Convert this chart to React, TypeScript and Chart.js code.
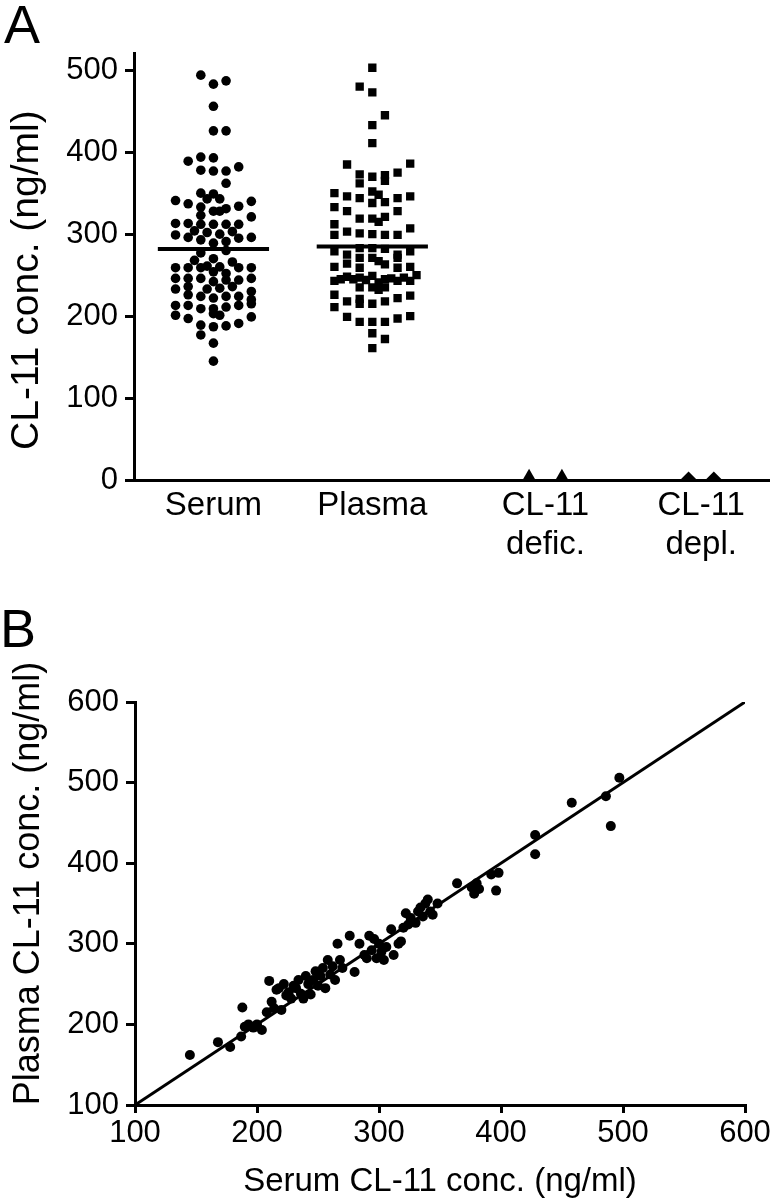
import React, { useEffect, useRef } from "react";
import { Chart, registerables } from "chart.js";

Chart.register(...registerables);

const FONT = "'Liberation Sans', Arial, Helvetica, sans-serif";

// ---------------- Panel A data ----------------
const categories: string[][] = [["Serum"], ["Plasma"], ["CL-11", "defic."], ["CL-11", "depl."]];
const categoryPositions = [1, 2, 3.09, 4.07];
const yTicksA = [0, 100, 200, 300, 400, 500];
const yTitleA = "CL-11 conc. (ng/ml)";

// [column offset in the swarm, CL-11 value ng/ml]
const serumPoints: [number, number][] = [
  [-1, 494], [0, 483], [1, 487], [0, 456], [0, 426], [1, 426],
  [-2, 389], [-1, 394], [0, 393], [-1, 378], [0, 377], [1, 377], [2, 382], [1, 362],
  [-1, 350], [0, 349], [-0.5, 343], [0.5, 343], [-3, 341], [-2, 337], [-1, 333], [0, 328], [0.5, 328], [1, 331], [2, 334], [3, 340],
  [-1, 323], [3, 321],
  [-3, 313], [-2, 313], [-1, 312], [0, 312], [1, 312], [2, 312],
  [-1.5, 304], [-0.5, 302], [0.5, 300], [1.5, 303],
  [-3, 299], [-2, 296], [-1, 293], [0, 289], [1, 291], [2, 295], [3, 296],
  [-1, 277], [1, 280],
  [-1.5, 268], [0, 270], [1.5, 266],
  [-3, 259], [-2, 259], [-1, 259], [-0.5, 261], [0, 254], [0.5, 260], [1, 252], [2, 259], [3, 259],
  [-3, 246], [-2, 246], [-1, 246], [0, 242], [1, 244], [2, 244], [3, 246],
  [-3, 233], [-2, 236], [-0.5, 233], [0.5, 234], [1.5, 236], [3, 230],
  [-2, 226], [-1, 224], [0, 222], [1, 224], [2, 224], [3, 220],
  [-3, 213], [-2, 213], [-1, 209], [0, 209], [1, 211], [2, 213], [3, 215],
  [-3, 201], [-2, 197], [0, 203], [0.5, 201], [3, 199],
  [-1, 189], [0, 187], [1, 188], [2, 191],
  [-1, 177], [0, 167], [0, 145],
];

const plasmaPoints: [number, number][] = [
  [0, 503], [-1, 480], [0, 473], [1, 445], [0, 433], [0, 411],
  [-2, 385], [3, 386], [2, 375], [-1, 373], [0, 370], [1, 372], [-1, 362], [1, 365],
  [-3, 350], [-2, 346], [-1, 344], [0, 352], [0.5, 348], [1, 339], [0, 338], [2, 344], [3, 346],
  [-3, 333], [-2, 328], [2, 328],
  [-1, 319], [0, 319], [0.5, 315], [1, 321],
  [-3, 312], [-3, 299], [-2, 303], [-1, 301], [0, 300], [1, 299], [2, 299], [3, 307],
  [-3, 279], [-2, 275], [-1, 283], [0, 283], [1, 282], [2, 275], [3, 279],
  [-2, 264], [-3, 260], [-1, 271], [-1, 259], [-1, 247], [-1, 235], [-1, 221], [-1, 215],
  [0, 271], [0.5, 267], [1, 263], [2, 271], [2, 259], [3, 260],
  [-3, 243], [-2.5, 245], [-2, 248], [-1.5, 245], [-0.5, 244], [0, 249], [0.5, 241], [1, 245], [1.5, 246], [2, 243], [2.5, 247], [3, 243], [3.5, 250],
  [0, 235], [0.5, 232], [1, 235],
  [-3, 226], [-3, 211], [-2, 218], [0, 215], [1, 218], [2, 222], [3, 225],
  [-2, 199], [-1, 193], [0, 193], [1, 193], [2, 197], [3, 200],
  [0, 179], [1, 172], [0, 161],
];

const deficPoints: [number, number][] = [[-1.3, 4.5], [1.3, 4.5]];
const deplPoints: [number, number][] = [[-1, 0], [1, 0]];
const serumMean = 282;
const plasmaMean = 285;

// ---------------- Panel B data ----------------
const xTicksB = [100, 200, 300, 400, 500, 600];
const yTicksB = [100, 200, 300, 400, 500, 600];
const identityLine = [100, 600];
const xTitleB = "Serum CL-11 conc. (ng/ml)";
const yTitleB = "Plasma CL-11 conc. (ng/ml)";
const serumB = [
  145, 168, 178, 187, 188, 190, 193, 197, 200, 204, 208, 210, 212, 214, 216, 218, 220, 222, 224, 226,
  228, 230, 232, 234, 236, 238, 240, 242, 244, 246, 248, 250, 252, 254, 256, 258, 260, 262, 264, 266,
  268, 270, 276, 280, 284, 288, 290, 292, 294, 296, 298, 300, 302, 304, 306, 310, 312, 316, 318, 320,
  322, 324, 326, 330, 332, 334, 336, 338, 340, 342, 344, 348, 364, 376, 378, 380, 382, 392, 396, 398,
  428, 428, 458, 486, 490, 497,
];
const plasmaB = [
  162, 178, 172, 185, 221, 197, 200, 196, 200, 193, 215, 254, 228, 220, 243, 245, 218, 250, 236, 240,
  232, 248, 245, 255, 238, 232, 260, 250, 237, 255, 266, 248, 260, 270, 245, 280, 262, 272, 255, 300,
  280, 270, 310, 265, 300, 286, 282, 310, 292, 306, 282, 300, 290, 280, 296, 318, 286, 300, 303, 320,
  338, 324, 332, 326, 340, 345, 334, 350, 355, 340, 336, 350, 375, 370, 362, 375, 368, 386, 366, 388,
  435, 411, 475, 483, 446, 506,
];

const COL_STEP = 0.0795;
const MEAN_HALF = 0.35;

function swarm(points: [number, number][], center: number) {
  return points.map(([c, v]) => ({ x: center + c * COL_STEP, y: v }));
}

function fixedTicks(values: number[]) {
  return (scale: any) => {
    scale.ticks = values.map((v) => ({ value: v }));
  };
}

// Rotated y-axis title, centred on the middle of the tick range
function yTitlePlugin(text: string, size: number, centerX: number, midValue: number, dy: number) {
  return {
    id: "yTitle_" + text.length,
    afterDraw(chart: any) {
      const { ctx, scales } = chart;
      const cy = scales.y.getPixelForValue(midValue) + dy;
      ctx.save();
      ctx.translate(centerX, cy);
      ctx.rotate(-Math.PI / 2);
      ctx.fillStyle = "#000";
      ctx.font = `${size}px ${FONT}`;
      ctx.textAlign = "center";
      ctx.textBaseline = "middle";
      ctx.fillText(text, 0, 0);
      ctx.restore();
    },
  };
}

function ChartA() {
  const ref = useRef<HTMLCanvasElement>(null);
  useEffect(() => {
    const ctx = ref.current!;
    const black = "#000";
    const chart = new Chart(ctx, {
      type: "scatter",
      data: {
        datasets: [
          {
            data: swarm(serumPoints, categoryPositions[0]),
            pointStyle: "circle",
            pointRadius: 4.8,
            backgroundColor: black,
            borderWidth: 0,
          },
          {
            data: swarm(plasmaPoints, categoryPositions[1]),
            pointStyle: "rect",
            pointRadius: 5.9,
            backgroundColor: black,
            borderWidth: 0,
          },
          {
            data: swarm(deficPoints, categoryPositions[2]),
            pointStyle: "triangle",
            pointRadius: 7.5,
            backgroundColor: black,
            borderWidth: 0,
          },
          {
            data: swarm(deplPoints, categoryPositions[3]),
            pointStyle: "rectRot",
            pointRadius: 8.5,
            backgroundColor: black,
            borderWidth: 0,
          },
          {
            data: [
              { x: categoryPositions[0] - MEAN_HALF, y: serumMean },
              { x: categoryPositions[0] + MEAN_HALF, y: serumMean },
            ],
            showLine: true,
            pointRadius: 0,
            borderColor: black,
            borderWidth: 4,
          },
          {
            data: [
              { x: categoryPositions[1] - MEAN_HALF, y: plasmaMean },
              { x: categoryPositions[1] + MEAN_HALF, y: plasmaMean },
            ],
            showLine: true,
            pointRadius: 0,
            borderColor: black,
            borderWidth: 4,
          },
        ],
      },
      options: {
        animation: false,
        responsive: false,
        maintainAspectRatio: false,
        events: [],
        layout: { padding: { top: 53, right: 4, left: 0, bottom: 0 } },
        plugins: { legend: { display: false }, tooltip: { enabled: false } },
        scales: {
          x: {
            type: "linear",
            min: 0.5,
            max: 4.5,
            afterBuildTicks: fixedTicks(categoryPositions),
            afterFit: (s: any) => {
              s.height = 120;
            },
            ticks: {
              autoSkip: false,
              maxRotation: 0,
              minRotation: 0,
              padding: 6,
              color: black,
              font: { family: FONT, size: 33 },
              callback: (v: any) => {
                const i = categoryPositions.indexOf(Number(v));
                return i >= 0 ? categories[i] : "";
              },
            },
            grid: { display: false, drawTicks: false },
            border: { display: true, color: black, width: 3 },
          },
          y: {
            type: "linear",
            min: 0,
            max: 521,
            afterBuildTicks: fixedTicks(yTicksA),
            afterFit: (s: any) => {
              s.width = 134;
            },
            ticks: {
              padding: 7,
              color: black,
              font: { family: FONT, size: 31 },
            },
            grid: { drawOnChartArea: false, drawTicks: true, tickLength: 9, color: black, lineWidth: 3 },
            border: { display: true, color: black, width: 3 },
          },
        },
      },
      plugins: [yTitlePlugin(yTitleA, 39, 27, 250, 5)],
    });
    return () => chart.destroy();
  }, []);
  return <canvas ref={ref} width={778} height={600} style={{ position: "absolute", left: 0, top: 0, width: 778, height: 600 }} />;
}

function ChartB() {
  const ref = useRef<HTMLCanvasElement>(null);
  useEffect(() => {
    const ctx = ref.current!;
    const black = "#000";
    const chart = new Chart(ctx, {
      type: "scatter",
      data: {
        datasets: [
          {
            data: serumB.map((s, i) => ({ x: s, y: plasmaB[i] })),
            pointStyle: "circle",
            pointRadius: 5,
            backgroundColor: black,
            borderWidth: 0,
          },
          {
            data: identityLine.map((v) => ({ x: v, y: v })),
            showLine: true,
            pointRadius: 0,
            borderColor: black,
            borderWidth: 3,
          },
        ],
      },
      options: {
        animation: false,
        responsive: false,
        maintainAspectRatio: false,
        events: [],
        layout: { padding: { top: 102, right: 33, left: 0, bottom: 0 } },
        plugins: { legend: { display: false }, tooltip: { enabled: false } },
        scales: {
          x: {
            type: "linear",
            min: 100,
            max: 600,
            afterBuildTicks: fixedTicks(xTicksB),
            afterFit: (s: any) => {
              s.height = 93;
            },
            ticks: { padding: 2, color: black, font: { family: FONT, size: 31 }, maxRotation: 0 },
            grid: { drawOnChartArea: false, drawTicks: true, tickLength: 8, color: black, lineWidth: 3 },
            border: { display: true, color: black, width: 3 },
            title: {
              display: true,
              text: xTitleB,
              color: black,
              font: { family: FONT, size: 33 },
              padding: { top: 0, bottom: -4 },
            },
          },
          y: {
            type: "linear",
            min: 100,
            max: 600,
            afterBuildTicks: fixedTicks(yTicksB),
            afterFit: (s: any) => {
              s.width = 135;
            },
            ticks: { padding: 7, color: black, font: { family: FONT, size: 31 } },
            grid: { drawOnChartArea: false, drawTicks: true, tickLength: 9, color: black, lineWidth: 3 },
            border: { display: true, color: black, width: 3 },
          },
        },
      },
      plugins: [yTitlePlugin(yTitleB, 36, 29, 350, -20)],
    });
    return () => chart.destroy();
  }, []);
  return <canvas ref={ref} width={778} height={598} style={{ position: "absolute", left: 0, top: 600, width: 778, height: 598 }} />;
}

export default function App() {
  const letter: React.CSSProperties = {
    position: "absolute",
    fontFamily: FONT,
    fontSize: 54,
    lineHeight: 1,
    color: "#000",
  };
  return (
    <div style={{ position: "absolute", left: 0, top: 0, width: 778, height: 1198, overflow: "hidden", background: "#fff" }}>
      <ChartA />
      <ChartB />
      <div style={{ ...letter, left: 4, top: -3 }}>A</div>
      <div style={{ ...letter, left: 0, top: 601 }}>B</div>
    </div>
  );
}
